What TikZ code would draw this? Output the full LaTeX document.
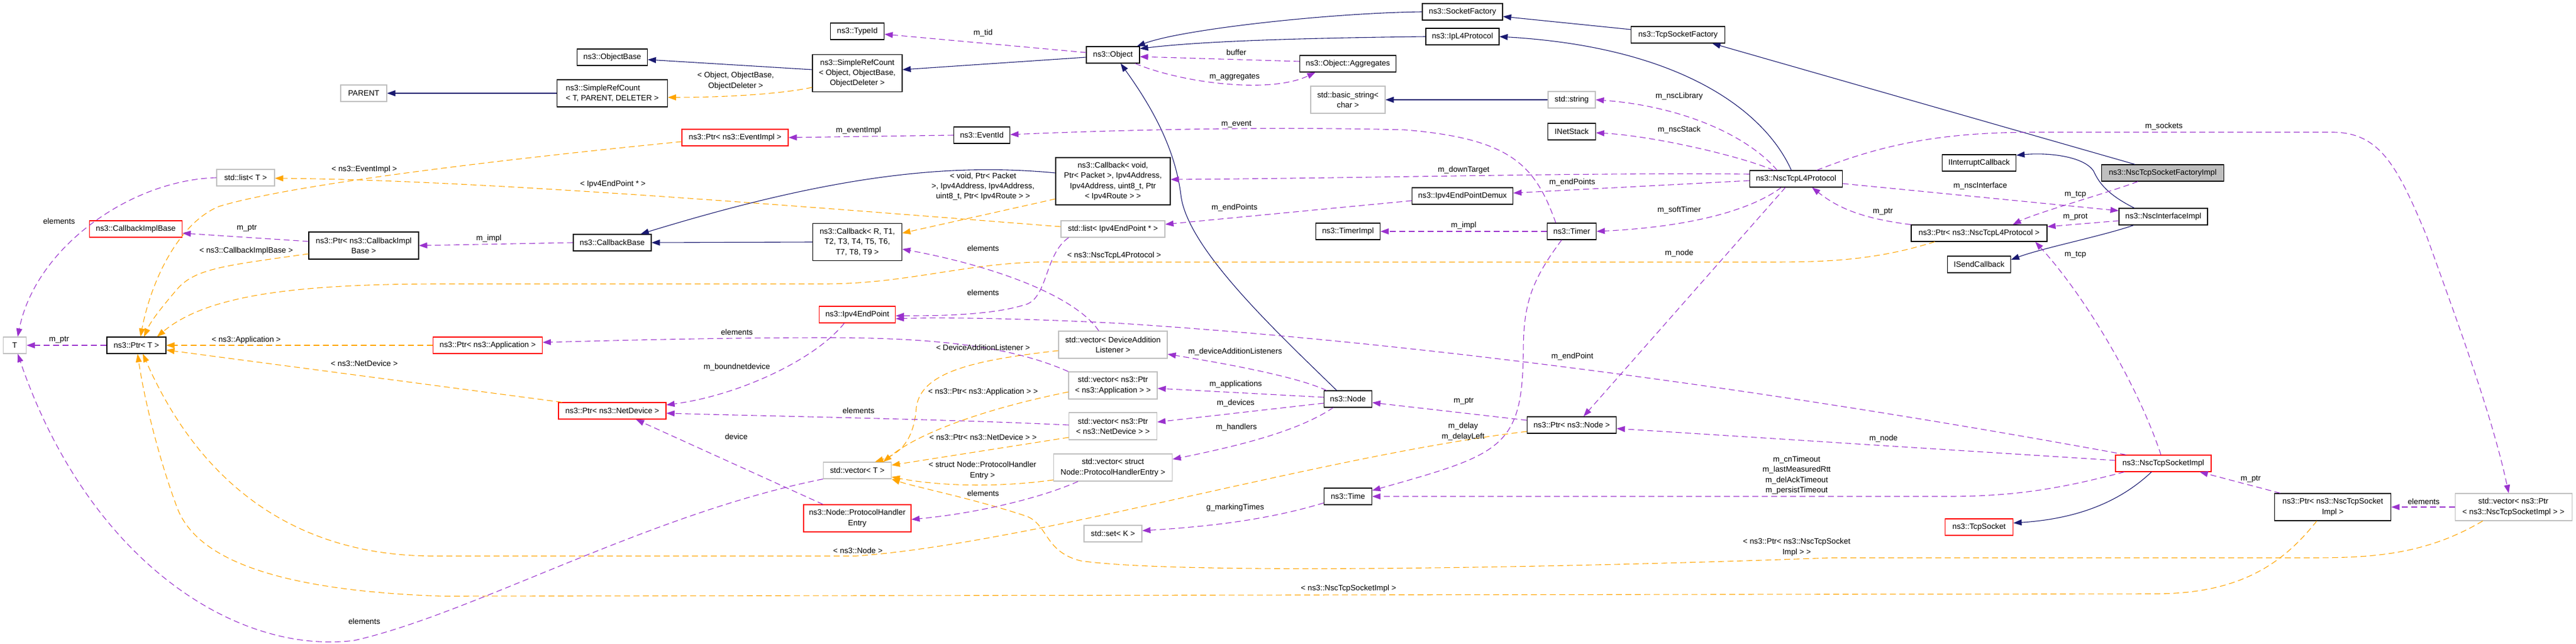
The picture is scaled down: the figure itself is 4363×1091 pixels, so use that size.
\documentclass[tikz,border=0pt]{standalone}
\usepackage{fontspec}
\setmainfont{Liberation Sans}
\usetikzlibrary{arrows.meta}
\definecolor{edgeblue}{HTML}{191970}
\definecolor{edgepurple}{HTML}{9A32CD}
\definecolor{edgeorange}{HTML}{FFA500}
\definecolor{boxgray}{HTML}{BFBFBF}
\newcommand{\dgfont}{\fontsize{13.3}{17.4}\selectfont}

\begin{document}
\begin{tikzpicture}[x=1pt, y=-1pt,
    cls/.style={draw=black, fill=white, line width=1.1pt, inner sep=0pt, minimum height=28pt, align=center, font=\dgfont},
    undoc/.style={cls, draw=boxgray},
    trunc/.style={cls, draw=red},
    mainbox/.style={cls, fill=boxgray},
    two/.style={minimum height=46pt},
    three/.style={minimum height=63pt},
    four/.style={minimum height=80pt},
    inherit/.style={draw=edgeblue, line width=1.1pt, -{Triangle[length=14pt,width=10pt]}},
    assoc/.style={draw=edgepurple, line width=1.1pt, dash pattern=on 10pt off 6pt, -{Triangle[length=14pt,width=10pt]}},
    templ/.style={draw=edgeorange, line width=1.1pt, dash pattern=on 10pt off 6pt, -{Triangle[length=14pt,width=10pt]}},
    lbl/.style={font=\dgfont, inner sep=0pt, align=center}]

    \fill[white] (0,0) rectangle (4363,1091);
    \useasboundingbox (0,0) rectangle (4363,1091);

    % classes
    \node[undoc, minimum width=39pt] (T) at (25,585) {T};
    \node[cls, minimum width=100pt] (PtrT) at (231,585) {ns3::Ptr< T >};
    \node[trunc, minimum width=157pt] (CBIB) at (230,388) {ns3::CallbackImplBase};
    \node[undoc, minimum width=98pt] (ListT) at (416,301) {std::list< T >};
    \node[undoc, minimum width=78pt] (PARENT) at (616,158) {PARENT};
    \node[cls, two, minimum width=186pt] (PtrCBIB) at (616,416) {ns3::Ptr< ns3::CallbackImpl\\Base >};
    \node[trunc, minimum width=185pt] (PtrApp) at (826,585) {ns3::Ptr< ns3::Application >};
    \node[cls, minimum width=119pt] (ObjectBase) at (1037,97) {ns3::ObjectBase};
    \node[cls, two, minimum width=187pt, align=left] (SRCT) at (1037,158) {ns3::SimpleRefCount\\< T, PARENT, DELETER >};
    \node[cls, minimum width=132pt] (CbBase) at (1037,411) {ns3::CallbackBase};
    \node[trunc, minimum width=182pt] (PtrND) at (1037,696) {ns3::Ptr< ns3::NetDevice >};
    \node[trunc, minimum width=180pt] (PtrEvImpl) at (1245,233) {ns3::Ptr< ns3::EventImpl >};
    \node[cls, minimum width=91pt] (TypeId) at (1452,53) {ns3::TypeId};
    \node[cls, three, minimum width=152pt] (SRCO) at (1452,124) {ns3::SimpleRefCount\\< Object, ObjectBase,\\ObjectDeleter >};
    \node[cls, three, minimum width=151pt] (CbR) at (1452,410) {ns3::Callback< R, T1,\\T2, T3, T4, T5, T6,\\T7, T8, T9 >};
    \node[trunc, minimum width=129pt] (EP) at (1452,533) {ns3::Ipv4EndPoint};
    \node[undoc, minimum width=115pt] (VecT) at (1452,797) {std::vector< T >};
    \node[trunc, two, minimum width=182pt] (PHE) at (1452,878) {ns3::Node::ProtocolHandler\\Entry};
    \node[cls, minimum width=95pt] (EventId) at (1663,229) {ns3::EventId};
    \node[cls, minimum width=90pt] (Object) at (1885,93) {ns3::Object};
    \node[cls, four, minimum width=194pt] (CbVoid) at (1885,307) {ns3::Callback< void,\\Ptr< Packet >, Ipv4Address,\\Ipv4Address, uint8\_t, Ptr\\< Ipv4Route > >};
    \node[undoc, minimum width=176pt] (ListEP) at (1885,388) {std::list< Ipv4EndPoint * >};
    \node[undoc, two, minimum width=184pt] (VecDAL) at (1885,584) {std::vector< DeviceAddition\\Listener >};
    \node[undoc, two, minimum width=150pt] (VecApp) at (1885,653) {std::vector< ns3::Ptr\\< ns3::Application > >};
    \node[undoc, two, minimum width=149pt] (VecND) at (1885,722) {std::vector< ns3::Ptr\\< ns3::NetDevice > >};
    \node[undoc, two, minimum width=201pt] (VecPHE) at (1885,792) {std::vector< struct\\Node::ProtocolHandlerEntry >};
    \node[undoc, minimum width=98pt] (SetK) at (1885,904) {std::set< K >};
    \node[cls, minimum width=163pt] (Aggr) at (2283,108) {ns3::Object::Aggregates};
    \node[undoc, two, minimum width=126pt] (BasicStr) at (2283,169) {std::basic\_string<\\char >};
    \node[cls, minimum width=109pt] (TimerImpl) at (2283,392) {ns3::TimerImpl};
    \node[cls, minimum width=81pt] (Node) at (2283,676) {ns3::Node};
    \node[cls, minimum width=81pt] (Time) at (2283,841) {ns3::Time};
    \node[cls, minimum width=136pt] (SocketFactory) at (2477,20) {ns3::SocketFactory};
    \node[cls, minimum width=124pt] (IpL4) at (2477,62) {ns3::IpL4Protocol};
    \node[cls, minimum width=171pt] (Demux) at (2477,332) {ns3::Ipv4EndPointDemux};
    \node[undoc, minimum width=80pt] (StdStr) at (2662,169) {std::string};
    \node[cls, minimum width=81pt] (INetStack) at (2662,223) {INetStack};
    \node[cls, minimum width=83pt] (Timer) at (2662,392) {ns3::Timer};
    \node[cls, minimum width=151pt] (PtrNode) at (2662,720) {ns3::Ptr< ns3::Node >};
    \node[cls, minimum width=159pt] (TcpSF) at (2842,59) {ns3::TcpSocketFactory};
    \node[cls, minimum width=157pt] (L4) at (3042,303) {ns3::NscTcpL4Protocol};
    \node[cls, minimum width=125pt] (IIC) at (3352,276) {IInterruptCallback};
    \node[cls, minimum width=230pt] (PtrL4) at (3352,395) {ns3::Ptr< ns3::NscTcpL4Protocol >};
    \node[cls, minimum width=107pt] (ISC) at (3352,448) {ISendCallback};
    \node[trunc, minimum width=115pt] (TcpSocket) at (3352,893) {ns3::TcpSocket};
    \node[mainbox, minimum width=207pt] (NTSFI) at (3663,293) {ns3::NscTcpSocketFactoryImpl};
    \node[cls, minimum width=150pt] (NII) at (3664,367) {ns3::NscInterfaceImpl};
    \node[trunc, minimum width=162pt] (NTSI) at (3664,785) {ns3::NscTcpSocketImpl};
    \node[cls, two, minimum width=197pt] (PtrNTSI) at (3951,859) {ns3::Ptr< ns3::NscTcpSocket\\Impl >};
    \node[undoc, two, minimum width=198pt] (VecNTSI) at (4257,859) {std::vector< ns3::Ptr\\< ns3::NscTcpSocketImpl > >};

    % inheritance
    \draw[inherit] (SRCT.west) -- (PARENT.east);
    \draw[inherit] ([yshift=6pt]SRCO.west) -- ([yshift=-4pt]ObjectBase.east);
    \draw[inherit] ([yshift=-4pt]Object.west) -- ([yshift=6pt]SRCO.east);
    \draw[inherit] (SocketFactory.west) .. controls (2250,22) and (2000,50) .. ([xshift=-5pt]Object.north east);
    \draw[inherit] (IpL4.west) .. controls (2250,64) and (2050,68) .. ([yshift=-4pt]Object.north east);
    \draw[inherit] ([xshift=-19pt]Node.north) .. controls (2160,560) and (2010,420) .. (2000,330)
        .. controls (1990,250) and (1950,180) .. ([xshift=13pt]Object.south);
    \draw[inherit] ([yshift=9pt]TcpSF.west) -- ([yshift=-8pt]SocketFactory.east);
    \draw[inherit] ([xshift=-47pt]NTSFI.north) -- ([xshift=58pt]TcpSF.south);
    \draw[inherit] ([xshift=-8pt]L4.north) .. controls (2990,190) and (2850,80) .. (IpL4.east);
    \draw[inherit] (StdStr.west) -- (BasicStr.east);
    \draw[inherit] (CbR.west) -- (CbBase.east);
    \draw[inherit] ([yshift=14pt]CbVoid.west) .. controls (1600,275) and (1400,300) .. ([xshift=48pt]CbBase.north);
    \draw[inherit] ([xshift=-49pt]NII.north) .. controls (3570,330) and (3555,310) .. (3546,290)
        .. controls (3530,265) and (3470,258) .. ([yshift=13pt]IIC.east);
    \draw[inherit] ([xshift=-50pt]NII.south) .. controls (3560,400) and (3460,420) .. ([yshift=8pt]ISC.east);
    \draw[inherit] ([xshift=-20pt]NTSI.south) .. controls (3580,860) and (3500,880) .. ([yshift=7pt]TcpSocket.east);

    % template instances
    \draw[templ] ([yshift=-24pt]SRCO.west) .. controls (1320,160) and (1220,165) .. ([yshift=-7pt]SRCT.east);
    \draw[templ] ([yshift=-30pt]CbVoid.west) -- ([yshift=15pt]CbR.east);
    \draw[templ] ([yshift=4pt]ListEP.west) .. controls (1300,345) and (800,305) .. ([yshift=-1pt]ListT.east);
    \draw[templ] ([yshift=-7pt]PtrEvImpl.west) .. controls (900,265) and (500,310) .. (370,350)
        .. controls (300,380) and (255,480) .. ([xshift=7pt]PtrT.north);
    \draw[templ] ([yshift=-14pt]PtrCBIB.west) .. controls (380,450) and (330,455) .. (300,490)
        .. controls (270,525) and (255,545) .. ([xshift=13pt]PtrT.north);
    \draw[templ] ([xshift=-75pt]PtrL4.south) .. controls (3180,440) and (3100,444) .. (3000,444) -- (1800,444)
        .. controls (1650,440) and (1550,480) .. (1400,481) -- (750,481)
        .. controls (500,481) and (350,500) .. ([xshift=35pt]PtrT.north);
    \draw[templ] (PtrApp.west) -- (PtrT.east);
    \draw[templ] ([xshift=-85pt]PtrND.north) -- ([yshift=-8pt]PtrT.east);
    \draw[templ] ([yshift=-11pt]PtrNode.west) .. controls (2250,770) and (1750,920) .. (1450,942) -- (730,942)
        .. controls (480,940) and (330,800) .. ([xshift=11pt]PtrT.south);
    \draw[templ] ([xshift=-27pt]PtrNTSI.south) .. controls (3870,950) and (3800,1006) .. (3650,1006) -- (750,1010)
        .. controls (450,1000) and (330,940) .. (300,860)
        .. controls (270,780) and (245,680) .. ([xshift=2pt]PtrT.south);
    \draw[templ] ([xshift=-52pt]VecNTSI.south) .. controls (4100,945) and (4000,945) .. (3900,945) -- (3100,945)
        .. controls (2700,960) and (2000,975) .. (1830,950)
        .. controls (1770,935) and (1775,890) .. (1740,875)
        .. controls (1650,845) and (1550,825) .. (VecT.south east);
    \draw[templ] ([yshift=-10pt]VecDAL.west) .. controls (1650,610) and (1560,630) .. (1552,690)
        .. controls (1548,750) and (1520,770) .. ([xshift=30pt]VecT.north);
    \draw[templ] ([yshift=-11pt]VecApp.west) .. controls (1680,690) and (1560,730) .. ([xshift=44pt]VecT.north);
    \draw[templ] ([yshift=-19pt]VecND.west) -- ([yshift=9pt]VecT.east);
    \draw[templ] ([yshift=-21pt]VecPHE.west) .. controls (1700,825) and (1600,825) .. ([yshift=-11pt]VecT.east);

    % members
    \draw[assoc] ([yshift=4pt]Object.west) -- ([yshift=-5pt]TypeId.east);
    \draw[assoc] ([yshift=4pt]Aggr.west) -- ([yshift=-3pt]Object.east);
    \draw[assoc] ([xshift=-8pt]Object.south east) .. controls (2000,140) and (2150,160) .. ([xshift=-55pt]Aggr.south);
    \draw[assoc] ([xshift=-32pt]L4.north) .. controls (2960,230) and (2850,180) .. (StdStr.east);
    \draw[assoc] ([xshift=-38pt]L4.north) .. controls (2950,265) and (2800,230) .. ([yshift=-2pt]INetStack.east);
    \draw[assoc] ([yshift=8pt]L4.west) .. controls (2700,292) and (2300,302) .. ([yshift=3pt]CbVoid.east);
    \draw[assoc] ([yshift=-3pt]L4.west) -- ([yshift=5pt]Demux.east);
    \draw[assoc] ([yshift=-8pt]Demux.west) -- ([yshift=8pt]ListEP.east);
    \draw[assoc] ([xshift=-25pt]L4.south) .. controls (2960,360) and (2850,385) .. (Timer.east);
    \draw[assoc] ([xshift=-18pt]L4.south) -- ([xshift=20pt]PtrNode.north);
    \draw[assoc] ([xshift=-27pt]Timer.north) .. controls (2600,280) and (2560,235) .. (2380,220)
        .. controls (2150,214) and (1900,220) .. ([yshift=1pt]EventId.east);
    \draw[assoc] (EventId.west) -- (PtrEvImpl.east);
    \draw[assoc] (Timer.west) -- (TimerImpl.east);
    \draw[assoc] ([xshift=-17pt]Timer.south) .. controls (2590,480) and (2580,520) .. (2580,600)
        .. controls (2578,760) and (2540,770) .. ([yshift=10pt]Time.east);
    \draw[assoc] (CbBase.west) -- (PtrCBIB.east);
    \draw[assoc] ([yshift=7pt]PtrCBIB.west) -- ([yshift=-7pt]CBIB.east);
    \draw[assoc] (ListT.west) .. controls (220,305) and (60,420) .. ([xshift=5pt]T.north);
    \draw[assoc] (PtrT.west) -- (T.east);
    \draw[assoc] (VecT.south west) .. controls (1100,870) and (800,1040) .. (600,1085)
        .. controls (400,1110) and (150,950) .. ([xshift=5pt]T.south);
    \draw[assoc] ([xshift=-22pt]EP.south) .. controls (1380,610) and (1250,670) .. ([yshift=10pt]PtrND.east);
    \draw[assoc] (VecApp.north west) .. controls (1720,590) and (1600,572) .. (1400,572)
        .. controls (1200,572) and (1000,578) .. ([yshift=5pt]PtrApp.east);
    \draw[assoc] ([yshift=2pt]VecND.west) .. controls (1600,710) and (1300,705) .. ([yshift=-4pt]PtrND.east);
    \draw[assoc] ([xshift=-58pt]PHE.north) -- ([xshift=40pt]PtrND.south);
    \draw[assoc] ([xshift=-59pt]VecPHE.south) .. controls (1760,845) and (1650,870) .. ([yshift=-2pt]PHE.east);
    \draw[assoc] ([xshift=-24pt]VecDAL.north) .. controls (1820,500) and (1680,450) .. ([yshift=-12pt]CbR.east);
    \draw[assoc] ([xshift=-75pt]ListEP.south) .. controls (1770,430) and (1775,500) .. (1740,515)
        .. controls (1680,535) and (1580,535) .. ([yshift=-2pt]EP.east);
    \draw[assoc] ([xshift=-63pt]NTSI.north) .. controls (3000,660) and (2400,580) .. (1900,548)
        .. controls (1750,540) and (1600,537) .. ([yshift=-7pt]EP.east);
    \draw[assoc] ([yshift=5pt]NTSI.west) -- ([yshift=-6pt]PtrNode.east);
    \draw[assoc] ([xshift=-66pt]NTSI.south) .. controls (3500,825) and (3420,841) .. (3300,841) -- (Time.east);
    \draw[assoc] ([xshift=-4pt]NTSI.north) .. controls (3620,650) and (3530,500) .. ([xshift=95pt]PtrL4.south);
    \draw[assoc] ([yshift=-7pt]NII.west) -- ([yshift=11pt]PtrL4.east);
    \draw[assoc] ([xshift=-42pt]NTSFI.south) .. controls (3560,330) and (3450,360) .. ([xshift=57pt]PtrL4.north);
    \draw[assoc] ([yshift=-8pt]L4.east) -- ([yshift=10pt]NII.west);
    \draw[assoc] (PtrL4.north west) .. controls (3150,370) and (3110,350) .. ([xshift=27pt]L4.south);
    \draw[assoc] ([xshift=35pt]L4.north) .. controls (3200,240) and (3300,224) .. (3450,224) -- (3950,224)
        .. controls (4030,224) and (4060,280) .. (4110,400)
        .. controls (4160,540) and (4220,700) .. ([xshift=-8pt]VecNTSI.north);
    \draw[assoc] ([xshift=-89pt]PtrNTSI.north) -- ([xshift=-20pt]NTSI.south east);
    \draw[assoc] (VecNTSI.west) -- (PtrNTSI.east);
    \draw[assoc] ([yshift=8pt]PtrNode.west) -- ([yshift=-6pt]Node.east);
    \draw[assoc] ([xshift=-36pt]Node.north) .. controls (2200,640) and (2100,620) .. ([yshift=-16pt]VecDAL.east);
    \draw[assoc] ([yshift=3pt]Node.west) -- ([yshift=-5pt]VecApp.east);
    \draw[assoc] ([yshift=-7pt]Node.west) -- ([yshift=7pt]VecND.east);
    \draw[assoc] ([xshift=-25pt]Node.south) .. controls (2200,730) and (2100,755) .. ([yshift=14pt]VecPHE.east);
    \draw[assoc] ([yshift=-11pt]Time.west) .. controls (2150,880) and (2050,892) .. ([yshift=5pt]SetK.east);

    % edge labels
    \node[lbl] (l-elem1) at (100,375) {elements};
    \node[lbl] (l-evimpl) at (617,287) {< ns3::EventImpl >};
    \node[lbl] (l-mptr1) at (418,387) {m\_ptr};
    \node[lbl] (l-cbib) at (417,425) {< ns3::CallbackImplBase >};
    \node[lbl] (l-mptr2) at (100,576) {m\_ptr};
    \node[lbl] (l-app) at (417,576) {< ns3::Application >};
    \node[lbl] (l-nd) at (617,616) {< ns3::NetDevice >};
    \node[lbl] (l-elem2) at (617,1053) {elements};
    \node[lbl] (l-src) at (1246,137) {< Object, ObjectBase,\\ObjectDeleter >};
    \node[lbl] (l-ep) at (1038,312) {< Ipv4EndPoint * >};
    \node[lbl] (l-mimpl1) at (828,404) {m\_impl};
    \node[lbl] (l-elem3) at (1248,563) {elements};
    \node[lbl] (l-bound) at (1248,622) {m\_boundnetdevice};
    \node[lbl] (l-device) at (1247,740) {device};
    \node[lbl] (l-node1) at (1453,933) {< ns3::Node >};
    \node[lbl] (l-mtid) at (1665,56) {m\_tid};
    \node[lbl] (l-buffer) at (2094,89) {buffer};
    \node[lbl] (l-aggr) at (2091,131) {m\_aggregates};
    \node[lbl] (l-evimpl2) at (1454,221) {m\_eventImpl};
    \node[lbl] (l-event) at (2094,211) {m\_event};
    \node[lbl] (l-cbvoid) at (1665,316) {< void, Ptr< Packet\\>, Ipv4Address, Ipv4Address,\\uint8\_t, Ptr< Ipv4Route > >};
    \node[lbl] (l-endpts1) at (2091,352) {m\_endPoints};
    \node[lbl] (l-elem4) at (1665,421) {elements};
    \node[lbl] (l-l4) at (1887,433) {< ns3::NscTcpL4Protocol >};
    \node[lbl] (l-elem5) at (1665,496) {elements};
    \node[lbl] (l-dal) at (1665,589) {< DeviceAdditionListener >};
    \node[lbl] (l-mdal) at (2092,596) {m\_deviceAdditionListeners};
    \node[lbl] (l-mapp) at (2093,651) {m\_applications};
    \node[lbl] (l-vapp) at (1665,664) {< ns3::Ptr< ns3::Application > >};
    \node[lbl] (l-elem6) at (1454,696) {elements};
    \node[lbl] (l-mdev) at (2093,683) {m\_devices};
    \node[lbl] (l-mhand) at (2094,724) {m\_handlers};
    \node[lbl] (l-vnd) at (1665,741) {< ns3::Ptr< ns3::NetDevice > >};
    \node[lbl] (l-phe) at (1664,797) {< struct Node::ProtocolHandler\\Entry >};
    \node[lbl] (l-elem7) at (1665,836) {elements};
    \node[lbl] (l-gmark) at (2092,860) {g\_markingTimes};
    \node[lbl] (l-down) at (2479,288) {m\_downTarget};
    \node[lbl] (l-endpts2) at (2663,309) {m\_endPoints};
    \node[lbl] (l-mimpl2) at (2479,382) {m\_impl};
    \node[lbl] (l-mptr3) at (2479,680) {m\_ptr};
    \node[lbl] (l-endpt) at (2663,604) {m\_endPoint};
    \node[lbl] (l-delay) at (2478,731) {m\_delay\\m\_delayLeft};
    \node[lbl] (l-ntsi) at (2284,997) {< ns3::NscTcpSocketImpl >};
    \node[lbl] (l-lib) at (2844,163) {m\_nscLibrary};
    \node[lbl] (l-stack) at (2844,220) {m\_nscStack};
    \node[lbl] (l-soft) at (2844,356) {m\_softTimer};
    \node[lbl] (l-node2) at (2844,429) {m\_node};
    \node[lbl] (l-iface) at (3354,315) {m\_nscInterface};
    \node[lbl] (l-mptr4) at (3189,359) {m\_ptr};
    \node[lbl] (l-tcp1) at (3515,330) {m\_tcp};
    \node[lbl] (l-prot) at (3515,368) {m\_prot};
    \node[lbl] (l-tcp2) at (3515,432) {m\_tcp};
    \node[lbl] (l-node3) at (3190,743) {m\_node};
    \node[lbl] (l-timeouts) at (3043,805) {m\_cnTimeout\\m\_lastMeasuredRtt\\m\_delAckTimeout\\m\_persistTimeout};
    \node[lbl] (l-vntsi) at (3043,927) {< ns3::Ptr< ns3::NscTcpSocket\\Impl > >};
    \node[lbl] (l-sockets) at (3665,214) {m\_sockets};
    \node[lbl] (l-mptr5) at (3812,812) {m\_ptr};
    \node[lbl] (l-elem8) at (4105,850) {elements};
\end{tikzpicture}
\end{document}
